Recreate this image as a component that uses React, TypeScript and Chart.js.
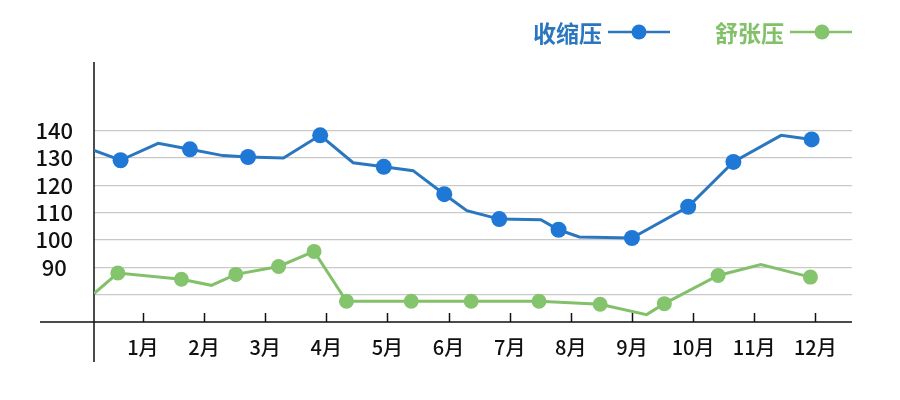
import React, { useEffect, useRef } from "react";
import { Chart, registerables } from "chart.js";

Chart.register(...registerables);

// Month ticks
const monthTicks = [1, 2, 3, 4, 5, 6, 7, 8, 9, 10, 11, 12];

// 收缩压 (systolic)
const sysX = [0.2, 0.635, 1.25, 1.77, 2.31, 2.72, 3.3, 3.9, 4.44, 4.94, 5.42, 5.93, 6.3, 6.83, 7.51, 7.8, 8.14, 9.0, 9.92, 10.66, 11.44, 11.94];
const sysY = [132.7, 129.1, 135.3, 133.1, 130.8, 130.3, 129.9, 138.2, 128.2, 126.7, 125.3, 116.7, 110.7, 107.6, 107.4, 103.7, 101.1, 100.7, 112.1, 128.5, 138.2, 136.7];
const sysMarker = [0, 1, 0, 1, 0, 1, 0, 1, 0, 1, 0, 1, 0, 1, 0, 1, 0, 1, 1, 1, 0, 1];

// 舒张压 (diastolic)
const diaX = [0.2, 0.59, 1.63, 2.12, 2.52, 3.22, 3.8, 4.33, 5.39, 6.37, 7.48, 8.48, 9.24, 9.53, 10.41, 11.11, 11.92];
const diaY = [80.4, 87.9, 85.6, 83.4, 87.4, 90.3, 95.8, 77.6, 77.6, 77.6, 77.6, 76.5, 72.7, 76.7, 87.0, 91.0, 86.4];
const diaMarker = [0, 1, 1, 0, 1, 1, 1, 1, 1, 1, 1, 1, 0, 1, 1, 0, 1];

const yTicks = [80, 90, 100, 110, 120, 130, 140];

const BLUE_LINE = "#2a77c0";
const BLUE_DOT = "#1f78d6";
const GREEN_LINE = "#82c169";
const GREEN_DOT = "#84c46c";
const FONT = '"Noto Sans CJK SC", "Noto Sans", sans-serif';

const axesPlugin = {
  id: "crossAxes",
  beforeDatasetsDraw(chart: any) {
    const { ctx, chartArea: a, scales } = chart;
    const x = scales.x;
    ctx.save();
    ctx.strokeStyle = "#111";
    ctx.lineWidth = 1.5;
    ctx.beginPath();
    ctx.moveTo(a.left, a.top);
    ctx.lineTo(a.left, a.bottom + 40);
    ctx.moveTo(a.left - 54, a.bottom);
    ctx.lineTo(a.right, a.bottom);
    x.ticks.forEach((t: any) => {
      const px = Math.round(x.getPixelForValue(t.value)) + 0.5;
      ctx.moveTo(px, a.bottom);
      ctx.lineTo(px, a.bottom - 9);
    });
    ctx.stroke();
    ctx.restore();
  },
};

function LegendItem({ label, color, dot, left, width, dotAt }: any) {
  return (
    <div
      style={{
        position: "absolute",
        left,
        top: 13,
        height: 38,
        display: "flex",
        alignItems: "center",
        fontFamily: FONT,
        fontWeight: 700,
        fontSize: 23,
        color,
        whiteSpace: "nowrap",
      }}
    >
      <span>{label}</span>
      <svg width={width} height={20} style={{ marginLeft: 6 }}>
        <line x1={0} y1={10} x2={width} y2={10} stroke={color} strokeWidth={2.5} />
        <circle cx={dotAt} cy={10} r={7.5} fill={dot} />
      </svg>
    </div>
  );
}

export default function App() {
  const ref = useRef<HTMLCanvasElement | null>(null);

  useEffect(() => {
    if (!ref.current) return;
    const chart = new Chart(ref.current, {
      type: "line",
      data: {
        datasets: [
          {
            label: "收缩压",
            data: sysX.map((x, i) => ({ x, y: sysY[i] })),
            borderColor: BLUE_LINE,
            backgroundColor: BLUE_DOT,
            borderWidth: 3,
            pointRadius: sysMarker.map((m) => (m ? 8 : 0)),
            pointBorderWidth: 0,
            pointBackgroundColor: BLUE_DOT,
            tension: 0,
          },
          {
            label: "舒张压",
            data: diaX.map((x, i) => ({ x, y: diaY[i] })),
            borderColor: GREEN_LINE,
            backgroundColor: GREEN_DOT,
            borderWidth: 3,
            pointRadius: diaMarker.map((m) => (m ? 7.5 : 0)),
            pointBorderWidth: 0,
            pointBackgroundColor: GREEN_DOT,
            tension: 0,
          },
        ],
      },
      options: {
        animation: false,
        responsive: false,
        layout: { padding: { top: 62, right: 48, left: 0, bottom: 0 } },
        plugins: { legend: { display: false }, tooltip: { enabled: false } },
        scales: {
          x: {
            type: "linear",
            min: 0.2,
            max: 12.6,
            afterBuildTicks: (s: any) => {
              s.ticks = monthTicks.map((v) => ({ value: v }));
            },
            afterFit: (s: any) => {
              s.height = 78;
            },
            grid: { display: false, drawTicks: false },
            border: { display: false },
            ticks: {
              autoSkip: false,
              maxRotation: 0,
              padding: 13,
              color: "#111",
              font: { family: FONT, size: 20, weight: "500" },
              callback: (v: any) => `${v}月`,
            },
          },
          y: {
            min: 70,
            max: 165,
            afterBuildTicks: (s: any) => {
              s.ticks = yTicks.map((v) => ({ value: v }));
            },
            afterFit: (s: any) => {
              s.width = 94;
            },
            grid: { color: "#c9c9c9", lineWidth: 1.2, drawTicks: false },
            border: { display: false },
            ticks: {
              crossAlign: "center",
              padding: 21,
              color: "#111",
              font: { family: FONT, size: 22, weight: "500" },
              callback: (v: any) => (v === 80 ? "" : `${v}`),
            },
          },
        },
      },
      plugins: [axesPlugin],
    } as any);
    return () => chart.destroy();
  }, []);

  return (
    <div style={{ position: "absolute", left: 0, top: 0, width: 900, height: 400, background: "#fff" }}>
      <canvas ref={ref} width={900} height={400} style={{ display: "block", width: 900, height: 400 }} />
      <LegendItem label="收缩压" color={BLUE_LINE} dot={BLUE_DOT} left={533} width={62} dotAt={31} />
      <LegendItem label="舒张压" color={GREEN_LINE} dot={GREEN_DOT} left={715} width={62} dotAt={32} />
    </div>
  );
}
